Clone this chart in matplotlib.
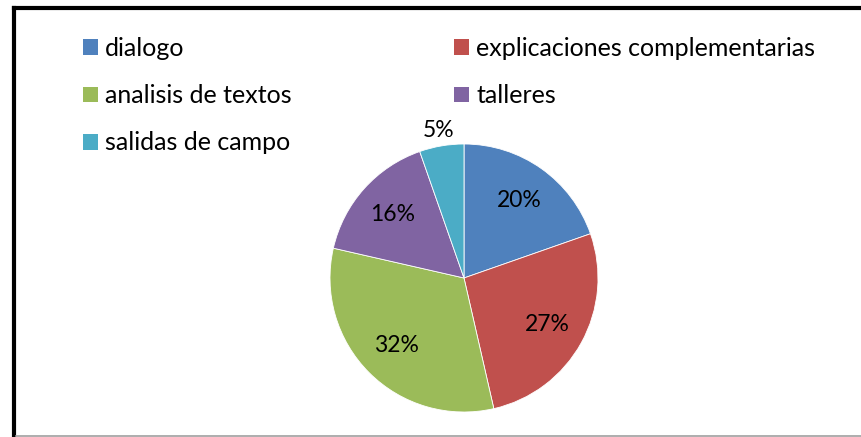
import matplotlib
matplotlib.use('Agg')
import matplotlib.pyplot as plt
import numpy as np
from matplotlib.lines import Line2D

categories = ['dialogo', 'explicaciones complementarias', 'analisis de textos',
              'talleres', 'salidas de campo']
counts = [11, 15, 18, 9, 3]
colors = ['#4F81BD', '#C0504D', '#9BBB59', '#8064A2', '#4BACC6']

plt.rcParams['font.family'] = ['Lato', 'DejaVu Sans']

W, H = 861, 437
fig = plt.figure(figsize=(W / 100, H / 100), dpi=100)

# pie: centre (464, 278) px, radius 134 px
cx, cy, r = 464, 278, 134
ax = fig.add_axes([(cx - r) / W, (H - cy - r) / H, 2 * r / W, 2 * r / H])
wedges, texts, pcts = ax.pie(counts, colors=colors, startangle=90, counterclock=False,
                             autopct='%1.0f%%', pctdistance=0.71,
                             wedgeprops=dict(edgecolor='white', linewidth=0.6),
                             textprops=dict(fontsize=16.5, color='black'))
ax.set_xlim(-1, 1)
ax.set_ylim(-1, 1)
ax.set_aspect('equal')

# small slice label goes outside
for w, t, c in zip(wedges, pcts, counts):
    if c / sum(counts) < 0.1:
        mid = np.deg2rad((w.theta1 + w.theta2) / 2)
        t.set_position((1.12 * np.cos(mid), 1.12 * np.sin(mid)))

# legend, row-major order in 2 columns
order = [0, 2, 4, 1, 3]
leg = fig.legend([wedges[i] for i in order], [categories[i] for i in order],
                 ncol=2, loc='upper left', bbox_to_anchor=(83 / W, 1 - 37 / H),
                 frameon=False, fontsize=18, handlelength=0.6, handleheight=0.6,
                 handletextpad=0.28, labelspacing=0.97, columnspacing=6.5,
                 borderpad=0, borderaxespad=0)
for h in leg.legend_handles:
    h.set_edgecolor('none')

# chart frame
fig.add_artist(Line2D([14 / W, 14 / W], [0, 1 - 8 / H], color='black', lw=3, solid_capstyle='projecting'))
fig.add_artist(Line2D([14 / W, 1], [1 - 8 / H, 1 - 8 / H], color='black', lw=3, solid_capstyle='projecting'))
fig.add_artist(Line2D([16 / W, 1], [1.2 / H, 1.2 / H], color='#A0A0A0', lw=1.2))

fig.savefig('out.png', dpi=100)
